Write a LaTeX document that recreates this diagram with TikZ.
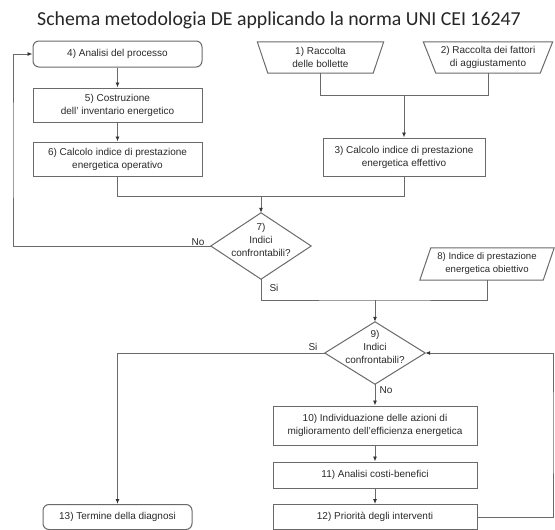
\documentclass[tikz,border=0pt]{standalone}
\usepackage{fontspec}
\setmainfont{Liberation Sans}
\newfontfamily\titlefont{Carlito}
\usetikzlibrary{arrows.meta,calc}
\definecolor{ln}{HTML}{6A6A6A}
\definecolor{tip}{HTML}{333333}
\definecolor{txt}{HTML}{2A2A2A}
\begin{document}
\begin{tikzpicture}[x=1pt,y=-1pt,
  box/.style={draw=ln, line width=1pt, align=center, inner sep=0pt, text=txt, font=\fontsize{10}{13}\selectfont},
  rbox/.style={box, rounded corners=6pt},
  plain/.style={inner sep=0pt, align=center, text=txt, font=\fontsize{10}{13}\selectfont},
  shp/.style={draw=ln, line width=1pt},
  conn/.style={draw=ln, line width=0.9pt},
  arr/.style={conn, -{Latex[length=5pt,width=4pt,color=tip]}},
  lab/.style={inner sep=0pt, text=txt, font=\fontsize{10}{12}\selectfont}]
\fill[white] (0,0) rectangle (555,530);
\useasboundingbox (0,0) rectangle (555,530);

\node[font=\titlefont\fontsize{19.8}{22}\selectfont, text=black!85] (title) at (279,20) {Schema metodologia DE applicando la norma UNI CEI 16247};

% left column
\node[rbox, minimum width=169pt, minimum height=26pt] (n4) at (117.5,54) {4) Analisi del processo};
\node[box, minimum width=169pt, minimum height=34pt] (n5) at (117.5,105) {5) Costruzione\\dell' inventario energetico};
\node[box, minimum width=169pt, minimum height=34pt] (n6) at (117.5,159) {6) Calcolo indice di prestazione\\energetica operativo};

% input trapezia
\node[plain, minimum width=105pt, minimum height=31pt] (n1) at (320.5,57.5) {1) Raccolta\\delle bollette};
\draw[shp] ($(n1.north west)+(-10.5,0)$) -- ($(n1.north east)+(10.5,0)$) -- (n1.south east) -- (n1.south west) -- cycle;
\node[plain, minimum width=104pt, minimum height=31pt] (n2) at (488,57.5) {2) Raccolta dei fattori\\di aggiustamento};
\draw[shp] ($(n2.north west)+(-12.5,0)$) -- ($(n2.north east)+(12.5,0)$) -- (n2.south east) -- (n2.south west) -- cycle;

\node[box, minimum width=162pt, minimum height=38pt] (n3) at (404,157) {3) Calcolo indice di prestazione\\energetica effettivo};

% decision 7
\node[minimum width=100pt, minimum height=66pt, inner sep=0pt] (d7) at (261,246) {};
\draw[shp] (d7.north) -- (d7.east) -- (d7.south) -- (d7.west) -- cycle;
\node[plain] (d7t) at (261,240) {7)\\Indici\\confrontabili?};

% parallelogram 8
\node[plain, minimum width=123pt, minimum height=32pt, font=\fontsize{9.6}{13}\selectfont] (n8) at (487,264) {8) Indice di prestazione\\energetica obiettivo};
\draw[shp] ($(n8.north west)+(5.5,0)$) -- ($(n8.north east)+(5.5,0)$) -- ($(n8.south east)+(-5.5,0)$) -- ($(n8.south west)+(-5.5,0)$) -- cycle;

% decision 9
\node[minimum width=100pt, minimum height=62pt, inner sep=0pt] (d9) at (375,353) {};
\draw[shp] (d9.north) -- (d9.east) -- (d9.south) -- (d9.west) -- cycle;
\node[plain] (d9t) at (375,347) {9)\\Indici\\confrontabili?};

\node[box, minimum width=204pt, minimum height=39pt] (n10) at (375,425.5) {10) Individuazione delle azioni di\\miglioramento dell'efficienza energetica};
\node[box, minimum width=204pt, minimum height=26pt] (n11) at (375,475) {11) Analisi costi-benefici};
\node[box, minimum width=204pt, minimum height=25pt] (n12) at (375,517) {12) Priorità degli interventi};
\node[rbox, minimum width=149pt, minimum height=25pt] (n13) at (117.5,517) {13) Termine della diagnosi};

% labels
\node[lab] (l7no) at (198,242) {No};
\node[lab] (l7si) at (274,288) {Si};
\node[lab] (l9si) at (313,347) {Si};
\node[lab] (l9no) at (386,390) {No};

% helper coordinates
\coordinate (j1) at (404,95);
\coordinate (j7) at (261,196);
\coordinate (j8) at (375,300);
\coordinate (fb) at (13,150);
\coordinate (fr) at (553,430);

% connectors
\draw[arr] (n4.south) -- (n5.north);
\draw[arr] (n5.south) -- (n6.north);
\draw[conn] (n1.south) |- (j1);
\draw[conn] (n2.south) |- (j1);
\draw[arr] (j1) -- (n3.north);
\draw[conn] (n6.south) |- (j7);
\draw[conn] (n3.south) |- (j7);
\draw[arr] (j7) -- (d7.north);
\draw[arr] (d7.west) -| (fb) |- (n4.west);
\draw[conn] (d7.south) |- (j8) -| (n8.south);
\draw[arr] (j8) -- (d9.north);
\draw[arr] (d9.west) -| (n13.north);
\draw[arr] (d9.south) -- (n10.north);
\draw[arr] (n10.south) -- (n11.north);
\draw[arr] (n11.south) -- (n12.north);
\draw[arr] (n12.east) -| (fr) |- (d9.east);
\end{tikzpicture}
\end{document}
